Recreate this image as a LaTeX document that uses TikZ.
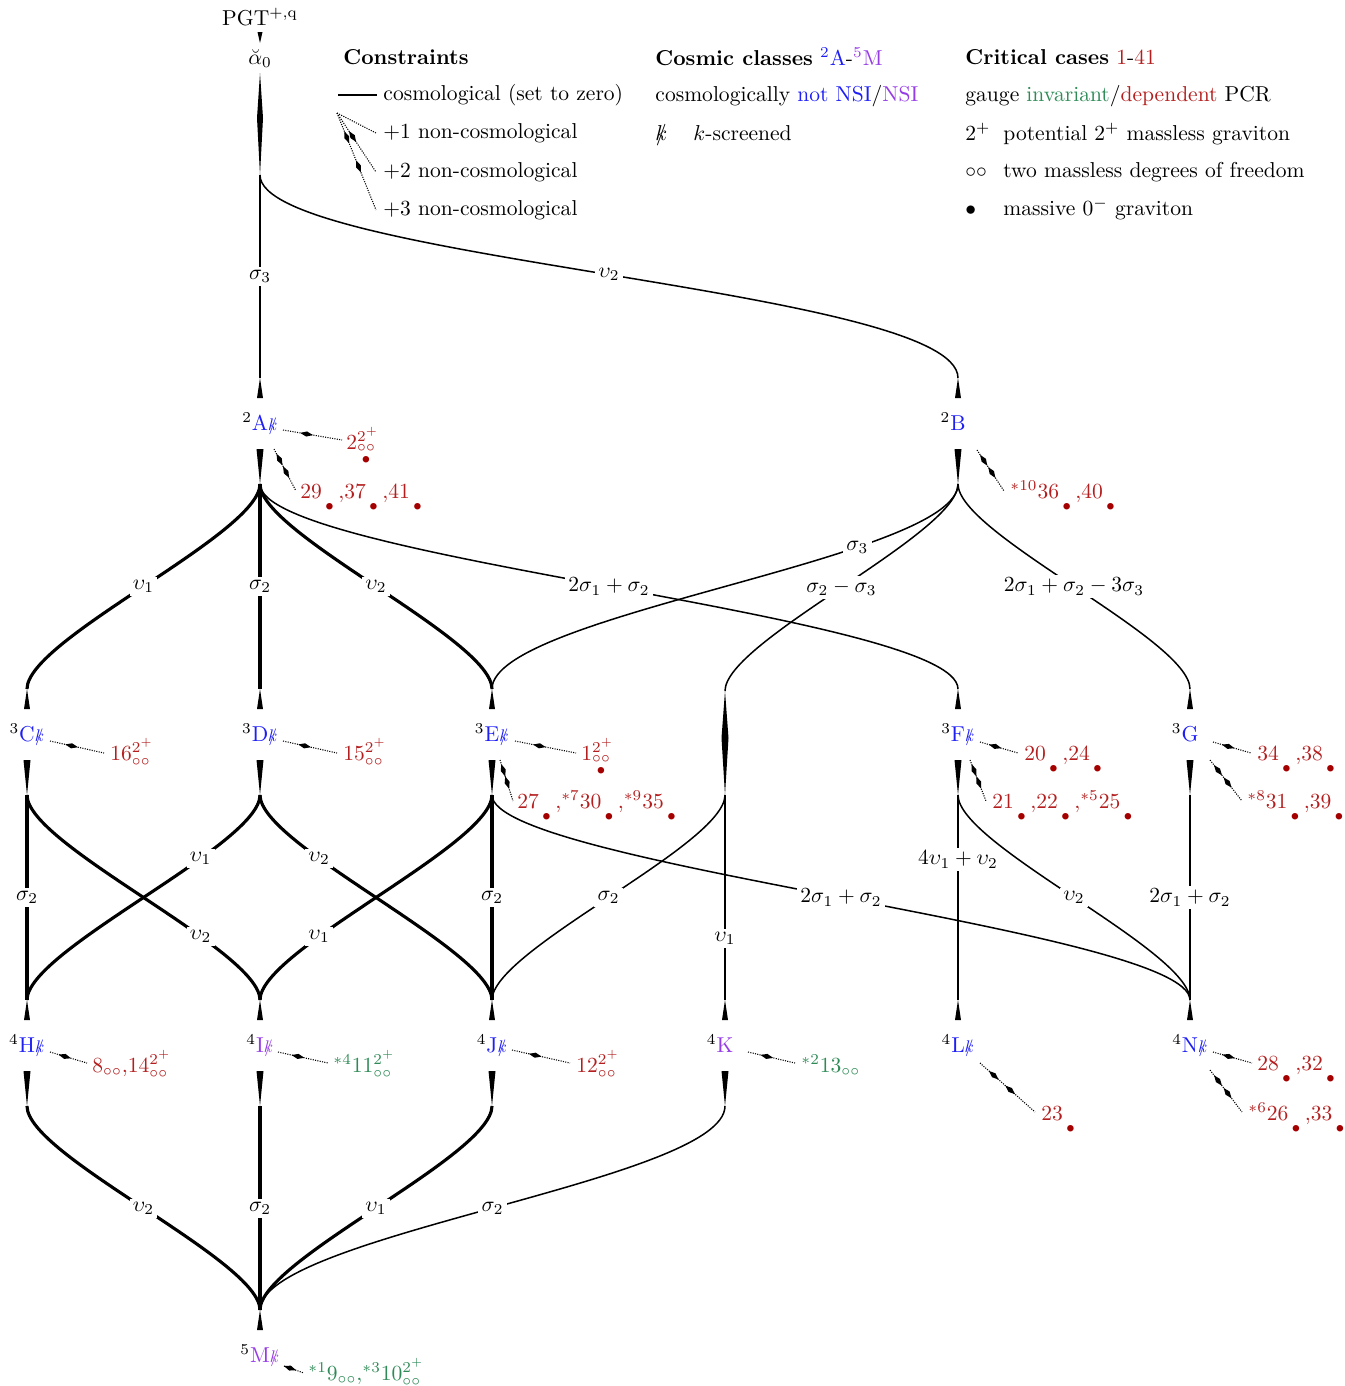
\documentclass[tikz,border=0pt]{standalone}
\usepackage{amsmath}
\usepackage{graphicx}
\usetikzlibrary{decorations.markings}
\definecolor{cb}{RGB}{30,30,245}
\definecolor{cp}{RGB}{150,60,230}
\definecolor{cg}{RGB}{46,139,87}
\definecolor{cr}{RGB}{180,30,30}
\definecolor{cd}{RGB}{165,0,0}
\newcommand{\kscr}{{\ooalign{$k$\cr\hidewidth$/$\hidewidth\cr}}}
\newcommand{\ksn}{\scalebox{0.78}{\kscr}}
\newcommand{\Dt}{_{\hspace{1.5pt}\raisebox{-4.5pt}{$\scriptstyle\textcolor{cd}{\bullet}$}\hspace{1.5pt}}}
\newcommand{\OD}{_{\substack{\circ\circ\\ \textcolor{cd}{\bullet}}}}
\newcommand{\OO}{_{\circ\circ}}
\newcommand{\TP}{^{2^+}}
\newcommand{\cm}{{,}}
\newcommand{\diam}{\fill[solid] (-3pt,0pt)--(0pt,1.2pt)--(3pt,0pt)--(0pt,-1.2pt)--cycle;}
\newcommand{\clsnode}[5]{%
  \node[cls,anchor=base] (#1) at (#2,#3+8) {\llap{$^{#4}$}#5};
  \coordinate (#1-in) at (#2,#3-44);
  \coordinate (#1-out) at (#2,#3+62);
  \fill (#1-in) -- ++(-3,20) -- ++(6,0) -- cycle;
}
\newcommand{\outw}[1]{\fill (#1-out) -- ++(-3.5,-35) -- ++(7,0) -- cycle;}
\tikzset{
  thinE/.style={line width=0.7pt},
  thickE/.style={line width=1.45pt},
  elab/.style={fill=white,inner sep=1.5pt},
  cls/.style={inner sep=0pt},
  ann/.style={line width=0.5pt,dash pattern=on 0.5pt off 0.6pt},
  one/.style={postaction={decorate,decoration={markings,mark=at position #1 with {\diam}}}},
  one/.default=0.4,
  two/.style={postaction={decorate,decoration={markings,mark=at position 0.25 with {\diam},mark=at position 0.55 with {\diam}}}},
  txt/.style={anchor=base west,inner sep=0pt},
}
\begin{document}
\begin{tikzpicture}[x={(0.464pt,0)},y={(0,-0.464pt)}]
\useasboundingbox (0,0) rectangle (1345,1386);

% ---------- top ----------
\node[cls,anchor=base] (PGT) at (260,25) {PGT$^{+,\mathrm{q}}$};
\node[cls,anchor=base] (a0) at (260,64) {$\breve\alpha_0$};
\coordinate (P-out) at (260,43);
\fill (P-out) -- ++(-2.5,-11) -- ++(5,0) -- cycle;
\coordinate (a0-top) at (260,73);
\coordinate (a0-out) at (260,175);
\fill (a0-top) -- (263,118) -- (a0-out) -- (257,118) -- cycle;

% ---------- classes ----------
\clsnode{A}{260}{422}{2}{\textcolor{cb}{A\rlap{\ksn}}}
\clsnode{B}{958}{422}{2}{\textcolor{cb}{B}}
\clsnode{C}{27}{733}{3}{\textcolor{cb}{C\rlap{\ksn}}}
\clsnode{D}{260}{733}{3}{\textcolor{cb}{D\rlap{\ksn}}}
\clsnode{E}{492}{733}{3}{\textcolor{cb}{E\rlap{\ksn}}}
\clsnode{F}{958}{733}{3}{\textcolor{cb}{F\rlap{\ksn}}}
\clsnode{G}{1190}{733}{3}{\textcolor{cb}{G}}
\clsnode{H}{27}{1044}{4}{\textcolor{cb}{H\rlap{\ksn}}}
\clsnode{I}{260}{1044}{4}{\textcolor{cp}{I\rlap{\ksn}}}
\clsnode{J}{492}{1044}{4}{\textcolor{cb}{J\rlap{\ksn}}}
\clsnode{K}{725}{1044}{4}{\textcolor{cp}{K}}
\clsnode{L}{958}{1044}{4}{\textcolor{cb}{L\rlap{\ksn}}}
\clsnode{N}{1190}{1044}{4}{\textcolor{cb}{N\rlap{\ksn}}}
\clsnode{M}{260}{1354}{5}{\textcolor{cp}{M\rlap{\ksn}}}
\foreach \n in {A,B,C,D,E,F,G,H,I,J,K} {\outw{\n}}
% invisible class
\coordinate (X-in) at (725,691);
\coordinate (X-out) at (725,795);
\fill (X-in) -- (728.5,738) -- (X-out) -- (721.5,738) -- cycle;

% ---------- edges ----------
\draw[thinE] (a0-out) -- (A-in) node[elab,pos=0.5] {$\sigma_3$};
\draw[thinE] (a0-out) .. controls +(0,85) and +(0,-90) .. (B-in) node[elab,pos=0.5] {$\upsilon_2$};

\draw[thickE] (A-out) .. controls +(0,50) and +(0,-50) .. (C-in) node[elab,pos=0.5] {$\upsilon_1$};
\draw[thickE] (A-out) -- (D-in) node[elab,pos=0.5] {$\sigma_2$};
\draw[thickE] (A-out) .. controls +(0,50) and +(0,-50) .. (E-in) node[elab,pos=0.5] {$\upsilon_2$};
\draw[thinE] (A-out) .. controls +(0,75) and +(0,-75) .. (F-in) node[elab,pos=0.5] {$2\sigma_1+\sigma_2$};
\draw[thinE] (B-out) .. controls +(0,75) and +(0,-75) .. (E-in) node[elab,pos=0.3] {$\sigma_3$};
\draw[thinE] (B-out) .. controls +(0,50) and +(0,-50) .. (X-in) node[elab,pos=0.5] {$\sigma_2-\sigma_3$};
\draw[thinE] (B-out) .. controls +(0,50) and +(0,-50) .. (G-in) node[elab,pos=0.5] {$2\sigma_1+\sigma_2-3\sigma_3$};

\draw[thickE] (C-out) -- (H-in) node[elab,pos=0.5] {$\sigma_2$};
\draw[thickE] (C-out) .. controls +(0,50) and +(0,-50) .. (I-in) node[elab,pos=0.67] {$\upsilon_2$};
\draw[thickE] (D-out) .. controls +(0,50) and +(0,-50) .. (H-in) node[elab,pos=0.33] {$\upsilon_1$};
\draw[thickE] (D-out) .. controls +(0,50) and +(0,-50) .. (J-in) node[elab,pos=0.33] {$\upsilon_2$};
\draw[thickE] (E-out) .. controls +(0,50) and +(0,-50) .. (I-in) node[elab,pos=0.67] {$\upsilon_1$};
\draw[thickE] (E-out) -- (J-in) node[elab,pos=0.5] {$\sigma_2$};
\draw[thinE] (E-out) .. controls +(0,70) and +(0,-70) .. (N-in) node[elab,pos=0.5] {$2\sigma_1+\sigma_2$};
\draw[thinE] (X-out) .. controls +(0,50) and +(0,-50) .. (J-in) node[elab,pos=0.5] {$\sigma_2$};
\draw[thinE] (X-out) -- (K-in) node[elab,pos=0.7] {$\upsilon_1$};
\draw[thinE] (F-out) -- (L-in) node[elab,pos=0.315] {$4\upsilon_1+\upsilon_2$};
\draw[thinE] (F-out) .. controls +(0,50) and +(0,-50) .. (N-in) node[elab,pos=0.5] {$\upsilon_2$};
\draw[thinE] (G-out) -- (N-in) node[elab,pos=0.5] {$2\sigma_1+\sigma_2$};

\draw[thickE] (H-out) .. controls +(0,50) and +(0,-50) .. (M-in) node[elab,pos=0.5] {$\upsilon_2$};
\draw[thickE] (I-out) -- (M-in) node[elab,pos=0.5] {$\sigma_2$};
\draw[thickE] (J-out) .. controls +(0,50) and +(0,-50) .. (M-in) node[elab,pos=0.5] {$\upsilon_1$};
\draw[thinE] (K-out) .. controls +(0,75) and +(0,-75) .. (M-in) node[elab,pos=0.5] {$\sigma_2$};

% ---------- annotations ----------
\node[txt,text=cr] (tA1) at (346,449) {$2\TP\OD$};
\draw[ann,one] (283,430) coordinate (sA1) -- (342,440) coordinate (eA1);
\node[txt,text=cr] (tA2) at (300,498) {$29\Dt\cm37\Dt\cm41\Dt$};
\draw[ann,two] (274,449) coordinate (sA2) -- (296,491) coordinate (eA2);
\node[txt,text=cr] (tB1) at (1010,498) {${}^{*10}36\Dt\cm40\Dt$};
\draw[ann,two] (977,450) coordinate (sB1) -- (1004,491) coordinate (eB1);
\node[txt,text=cr] (tC1) at (110,760) {$16\TP\OO$};
\draw[ann,one] (50,741) coordinate (sC1) -- (104,753) coordinate (eC1);
\node[txt,text=cr] (tD1) at (343,760) {$15\TP\OO$};
\draw[ann,one] (283,741) coordinate (sD1) -- (337,753) coordinate (eD1);
\node[txt,text=cr] (tE1) at (581,760) {$1\TP\OD$};
\draw[ann,one] (515,741) coordinate (sE1) -- (576,753) coordinate (eE1);
\node[txt,text=cr] (tE2) at (517,808) {$27\Dt\cm{}^{*7}30\Dt\cm{}^{*9}35\Dt$};
\draw[ann,two] (500,760) coordinate (sE2) -- (513,801) coordinate (eE2);
\node[txt,text=cr] (tF1) at (1024,760) {$20\Dt\cm24\Dt$};
\draw[ann,one] (980,742) coordinate (sF1) -- (1018,753) coordinate (eF1);
\node[txt,text=cr] (tF2) at (992,808) {$21\Dt\cm22\Dt\cm{}^{*5}25\Dt$};
\draw[ann,two] (970,760) coordinate (sF2) -- (986,801) coordinate (eF2);
\node[txt,text=cr] (tG1) at (1257,760) {$34\Dt\cm38\Dt$};
\draw[ann,one] (1213,742) coordinate (sG1) -- (1251,753) coordinate (eG1);
\node[txt,text=cr] (tG2) at (1247,808) {${}^{*8}31\Dt\cm39\Dt$};
\draw[ann,two] (1210,760) coordinate (sG2) -- (1242,801) coordinate (eG2);
\node[txt,text=cr] (tH1) at (92,1072) {$8\OO\cm14\TP\OO$};
\draw[ann,one] (50,1052) coordinate (sH1) -- (87,1063) coordinate (eH1);
\node[txt,text=cg] (tI1) at (333,1072) {${}^{*4}11\TP\OO$};
\draw[ann,one] (278,1052) coordinate (sI1) -- (328,1063) coordinate (eI1);
\node[txt,text=cr] (tJ1) at (576,1072) {$12\TP\OO$};
\draw[ann,one] (512,1050) coordinate (sJ1) -- (570,1063) coordinate (eJ1);
\node[txt,text=cg] (tK1) at (801,1072) {${}^{*2}13\OO$};
\draw[ann,one] (748,1052) coordinate (sK1) -- (795,1063) coordinate (eK1);
\node[txt,text=cr] (tL1) at (1041,1120) {$23\Dt$};
\draw[ann,two] (980,1063) coordinate (sL1) -- (1035,1112) coordinate (eL1);
\node[txt,text=cr] (tN1) at (1257,1070) {$28\Dt\cm32\Dt$};
\draw[ann,one] (1213,1052) coordinate (sN1) -- (1252,1063) coordinate (eN1);
\node[txt,text=cr] (tN2) at (1248,1120) {${}^{*6}26\Dt\cm33\Dt$};
\draw[ann,two] (1210,1070) coordinate (sN2) -- (1242,1112) coordinate (eN2);
\node[txt,text=cg] (tM1) at (308,1380) {${}^{*1}9\OO\cm{}^{*3}10\TP\OO$};
\draw[ann,one=0.3] (284,1366) coordinate (sM1) -- (304,1373) coordinate (eM1);

% ---------- legend ----------
\node[txt] (lc) at (343,64) {\textbf{Constraints}};
\draw[thinE] (338,95) coordinate (l0a) -- (377,95) coordinate (l0b);
\node[txt] (l0) at (383,100) {cosmological (set to zero)};
\coordinate (lo) at (337,113);
\node[txt] (l1) at (383,138) {$+1$ non-cosmological};
\node[txt] (l2) at (383,177) {$+2$ non-cosmological};
\node[txt] (l3) at (383,215) {$+3$ non-cosmological};
\draw[ann] (lo) -- (376,133) coordinate (l1e);
\draw[ann,one] (lo) -- (376,172) coordinate (l2e);
\draw[ann,two] (lo) -- (376,210) coordinate (l3e);

\node[txt] (cc) at (655,65) {\textbf{Cosmic classes} \textcolor{cb}{$^2$A}-\textcolor{cp}{$^5$M}};
\node[txt] (c1) at (655,101) {cosmologically \textcolor{cb}{not NSI}/\textcolor{cp}{NSI}};
\node[txt] (c2a) at (655,140) {$\kscr$};
\node[txt] (c2b) at (693,140) {$k$-screened};

\node[txt] (kc) at (965,64) {\textbf{Critical cases} \textcolor{cr}{1}-\textcolor{cr}{41}};
\node[txt] (k1) at (965,101) {gauge \textcolor{cg}{invariant}/\textcolor{cr}{dependent} PCR};
\node[txt] (k2a) at (965,140) {$2^+$};
\node[txt] (k2b) at (1003,140) {potential $2^+$ massless graviton};
\node[txt] (k3a) at (965,177) {$\circ\circ$};
\node[txt] (k3b) at (1003,177) {two massless degrees of freedom};
\node[txt] (k4a) at (965,215) {$\bullet$};
\node[txt] (k4b) at (1003,215) {massive $0^-$ graviton};
\end{tikzpicture}
\end{document}
